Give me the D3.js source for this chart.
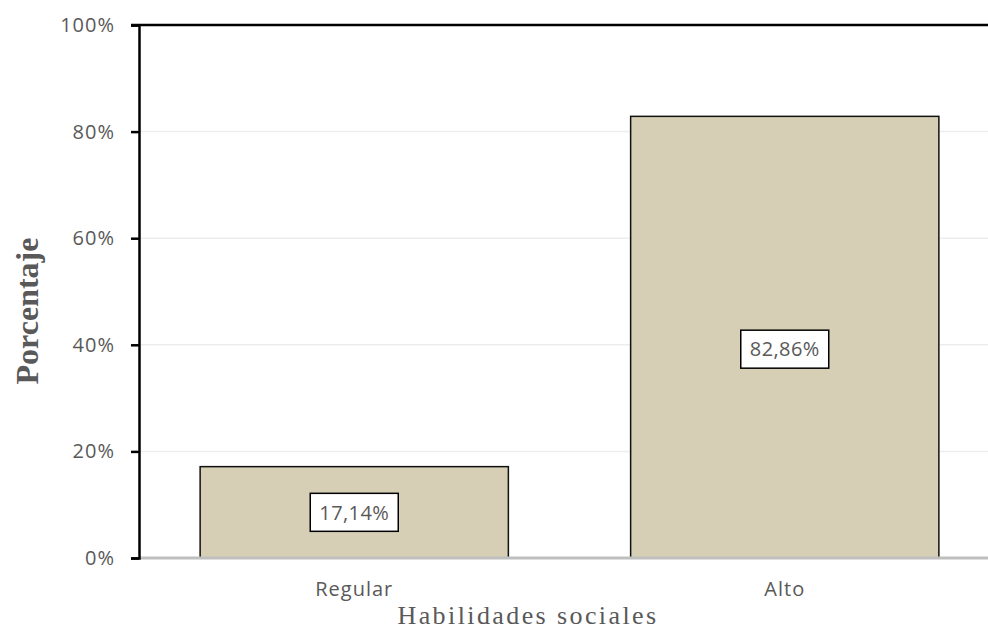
<!DOCTYPE html>
<html>
<head>
<meta charset="utf-8">
<script src="https://cdn.jsdelivr.net/npm/d3@7"></script>
<style>
  html, body { margin: 0; padding: 0; background: #fff; }
  svg { display: block; }
</style>
</head>
<body>
<svg id="chart" width="988" height="631"></svg>
<script>
// Nivel de habilidades sociales (porcentaje de estudiantes)
const categories = ["Regular", "Alto"];
const values = [17.14, 82.86];
const yTicks = [0, 20, 40, 60, 80, 100];

const svg = d3.select("#chart");
const margin = { left: 139, top: 25, bottom: 558 };
const plotRight = 1000;

const x = d3.scaleBand().domain(categories).range([margin.left, plotRight]).paddingInner(0.284).paddingOuter(0.142);
const y = d3.scaleLinear().domain([0, 100]).range([margin.bottom, margin.top]);

const labelFont = "'Open Sans', 'Noto Sans', sans-serif";
const serif = "'Liberation Serif', 'DejaVu Serif', serif";
const gray = "#595959";

// horizontal gridlines
svg.append("g").selectAll("line").data(yTicks.filter(t => t > 0 && t < 100)).join("line")
  .attr("x1", margin.left).attr("x2", 988)
  .attr("y1", d => y(d)).attr("y2", d => y(d))
  .attr("stroke", "#ededed").attr("stroke-width", 1.5);

// bars
svg.append("g").selectAll("rect").data(values).join("rect")
  .attr("x", (d, i) => x(categories[i]))
  .attr("y", d => y(d))
  .attr("width", x.bandwidth())
  .attr("height", d => y(0) - y(d))
  .attr("fill", "#d6cfb5")
  .attr("stroke", "#111").attr("stroke-width", 1.5);

// baseline
svg.append("line")
  .attr("x1", margin.left).attr("x2", 988)
  .attr("y1", y(0)).attr("y2", y(0))
  .attr("stroke", "#bfbfbf").attr("stroke-width", 3);

// top border line
svg.append("line")
  .attr("x1", margin.left - 8).attr("x2", 988)
  .attr("y1", y(100)).attr("y2", y(100))
  .attr("stroke", "#000").attr("stroke-width", 2.5);

// y axis
const yAxis = d3.axisLeft(y).tickValues(yTicks).tickSize(8).tickPadding(16).tickFormat(d => d + "%");
const gy = svg.append("g").attr("transform", `translate(${margin.left},0)`).call(yAxis);
gy.select(".domain").attr("stroke", "#000").attr("stroke-width", 2.5);
gy.selectAll(".tick line").attr("stroke", "#000").attr("stroke-width", 2.5);
gy.selectAll(".tick text").attr("fill", gray).attr("font-size", 20).attr("letter-spacing", 1).attr("font-family", labelFont);

// x axis category labels
const xAxis = d3.axisBottom(x).tickSize(0).tickPadding(24);
const gx = svg.append("g").attr("transform", `translate(0,${y(0)})`).call(xAxis);
gx.select(".domain").remove();
gx.selectAll(".tick text").attr("fill", gray).attr("font-size", 20).attr("font-family", labelFont).attr("letter-spacing", 1);

// value labels in boxes
const lab = svg.append("g").selectAll("g").data(values).join("g")
  .attr("transform", (d, i) => {
    const cx = x(categories[i]) + x.bandwidth() / 2;
    const cy = y(d / 2) + (d > 50 ? 12 : 0);
    return `translate(${cx},${cy})`;
  });
lab.append("rect").attr("x", -44).attr("y", -19).attr("width", 88).attr("height", 38)
  .attr("fill", "#fff").attr("stroke", "#000").attr("stroke-width", 1.5);
lab.append("text").attr("text-anchor", "middle").attr("dy", "0.36em")
  .attr("fill", gray).attr("font-size", 20).attr("letter-spacing", 0.4).attr("font-family", labelFont)
  .text(d => d.toFixed(2).replace(".", ",") + "%");

// axis titles
svg.append("text")
  .attr("x", 528).attr("y", 624)
  .attr("text-anchor", "middle")
  .attr("font-family", serif)
  .attr("font-size", 26).attr("letter-spacing", 2.4)
  .attr("fill", gray)
  .text("Habilidades sociales");

svg.append("text")
  .attr("transform", "translate(38,311) rotate(-90)")
  .attr("text-anchor", "middle")
  .attr("font-family", serif)
  .attr("font-size", 32).attr("font-weight", "bold")
  .attr("fill", gray)
  .text("Porcentaje");
</script>
</body>
</html>
